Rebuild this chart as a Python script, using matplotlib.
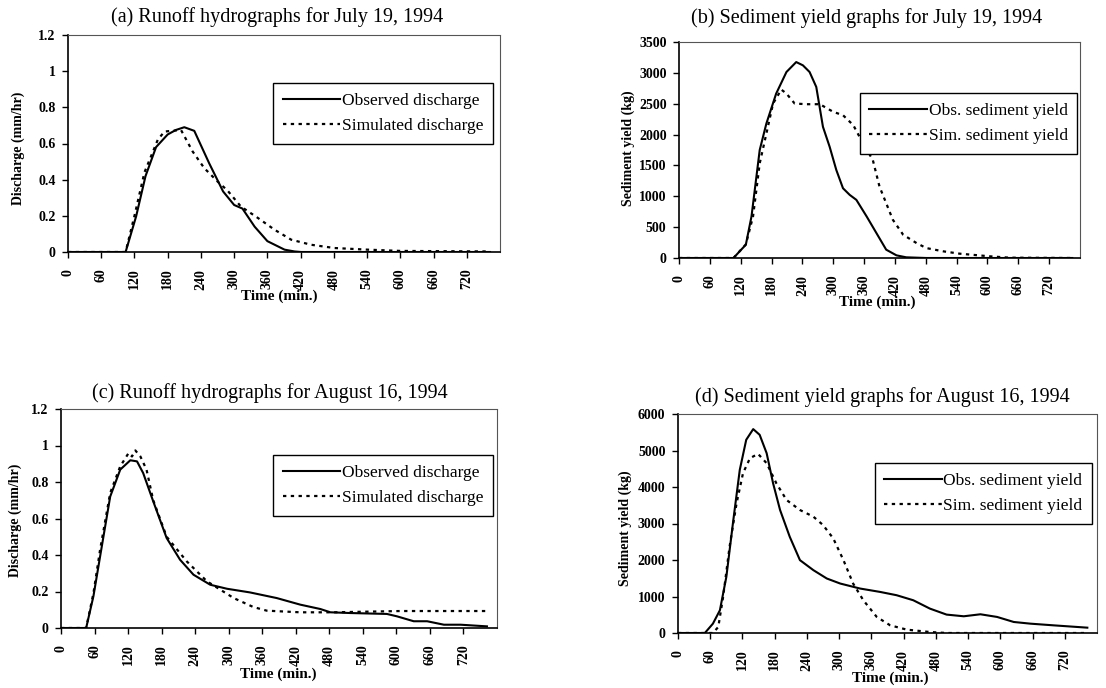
import matplotlib
matplotlib.use("Agg")
import matplotlib.pyplot as plt
import matplotlib.transforms as mtransforms
import numpy as np

plt.rcParams['font.family'] = ['Liberation Serif', 'DejaVu Serif']

# (a) runoff, July 19, 1994
t_obs_a = [0, 104, 123, 140, 159, 180, 195, 210, 228, 255, 280, 300, 315, 337, 360, 391, 409, 421, 480, 762]
q_obs_a = [0, 0, 0.197, 0.42, 0.58, 0.65, 0.675, 0.69, 0.67, 0.49, 0.335, 0.26, 0.24, 0.14, 0.06, 0.013, 0.003, 0, 0, 0]
t_sim_a = [0, 104, 120, 138, 162, 174, 204, 225, 246, 270, 288, 312, 343, 373, 403, 439, 481, 541, 600, 758]
q_sim_a = [0, 0, 0.2, 0.44, 0.62, 0.666, 0.675, 0.556, 0.464, 0.39, 0.34, 0.252, 0.188, 0.123, 0.068, 0.04, 0.022, 0.013, 0.006, 0.003]

# (b) sediment, July 19, 1994
t_obs_b = [0, 106, 118, 130, 141, 157, 170, 189, 209, 228, 241, 254, 267, 280, 293, 306, 319, 332, 345, 365, 384, 403, 423, 442, 481, 765]
s_obs_b = [0, 0, 108, 215, 673, 1750, 2180, 2664, 3014, 3175, 3122, 3014, 2772, 2126, 1803, 1426, 1130, 1023, 942, 673, 404, 135, 43, 11, 0, 0]
t_sim_b = [0, 106, 130, 144, 157, 170, 183, 199, 209, 225, 248, 274, 300, 319, 339, 358, 377, 390, 403, 416, 436, 462, 481, 514, 546, 605, 643, 765]
s_sim_b = [0, 0, 220, 673, 1534, 2018, 2503, 2729, 2664, 2503, 2492, 2492, 2368, 2314, 2153, 1857, 1588, 1157, 888, 619, 377, 242, 161, 108, 70, 27, 5, 0]

# (c) runoff, August 16, 1994
t_obs_c = [0, 45, 58, 70, 88, 106, 124, 136, 147, 165, 189, 213, 237, 267, 297, 338, 386, 428, 464, 482, 518, 583, 601, 631, 655, 685, 715, 762]
q_obs_c = [0, 0, 0.174, 0.393, 0.72, 0.868, 0.919, 0.913, 0.849, 0.694, 0.493, 0.374, 0.292, 0.237, 0.215, 0.195, 0.164, 0.128, 0.104, 0.086, 0.082, 0.077, 0.064, 0.037, 0.037, 0.018, 0.018, 0.009]
t_sim_c = [0, 45, 58, 70, 88, 106, 121, 127, 133, 142, 153, 165, 189, 225, 261, 285, 309, 344, 368, 428, 488, 607, 762]
q_sim_c = [0, 0, 0.19, 0.43, 0.74, 0.886, 0.959, 0.94, 0.973, 0.94, 0.868, 0.70, 0.50, 0.365, 0.256, 0.21, 0.164, 0.115, 0.095, 0.086, 0.086, 0.093, 0.093]

# (d) sediment, August 16, 1994
t_obs_d = [0, 50, 65, 78, 90, 103, 115, 127, 140, 152, 165, 177, 190, 208, 227, 252, 277, 302, 339, 376, 407, 438, 469, 500, 532, 563, 594, 625, 656, 699, 762]
s_obs_d = [0, 0, 256, 623, 1538, 3095, 4469, 5293, 5586, 5430, 4927, 4103, 3370, 2637, 1996, 1722, 1493, 1355, 1218, 1126, 1035, 897, 668, 504, 458, 513, 440, 302, 256, 210, 146]
t_sim_d = [0, 65, 75, 84, 96, 109, 121, 134, 149, 165, 183, 202, 227, 252, 270, 289, 308, 326, 345, 370, 395, 426, 469, 500, 762]
s_sim_d = [0, 0, 165, 989, 2363, 3553, 4377, 4789, 4908, 4652, 4103, 3645, 3370, 3187, 2958, 2592, 1996, 1355, 897, 440, 210, 92, 27, 0, 0]

time_ticks = list(range(0, 721, 60))

fig = plt.figure(figsize=(11.06, 6.88), dpi=100)

panels = [
    dict(rect=[68, 252, 432, 217], obs=(t_obs_a, q_obs_a), sim=(t_sim_a, q_sim_a),
         ylim=1.2, ystep=0.2, ylabel="Discharge (mm/hr)",
         names=("Observed discharge", "Simulated discharge"),
         title="(a) Runoff hydrographs for July 19, 1994", tpos=(0.484, 1.083),
         leg=(0.984, 0.779), xl=(0.49, -0.203), yl=(-0.116, 0.48)),
    dict(rect=[679, 258, 401, 216], obs=(t_obs_b, s_obs_b), sim=(t_sim_b, s_sim_b),
         ylim=3500, ystep=500, ylabel="Sediment yield (kg)",
         names=("Obs. sediment yield", "Sim. sediment yield"),
         title="(b) Sediment yield graphs for July 19, 1994", tpos=(0.469, 1.111),
         leg=(0.993, 0.764), xl=(0.494, -0.204), yl=(-0.127, 0.51)),
    dict(rect=[61, 628, 436, 219], obs=(t_obs_c, q_obs_c), sim=(t_sim_c, q_sim_c),
         ylim=1.2, ystep=0.2, ylabel="Discharge (mm/hr)",
         names=("Observed discharge", "Simulated discharge"),
         title="(c) Runoff hydrographs for August 16, 1994", tpos=(0.479, 1.073),
         leg=(0.991, 0.79), xl=(0.498, -0.21), yl=(-0.105, 0.49)),
    dict(rect=[678, 633, 419, 219], obs=(t_obs_d, s_obs_d), sim=(t_sim_d, s_sim_d),
         ylim=6000, ystep=1000, ylabel="Sediment yield (kg)",
         names=("Obs. sediment yield", "Sim. sediment yield"),
         title="(d) Sediment yield graphs for August 16, 1994", tpos=(0.487, 1.078),
         leg=(0.988, 0.776), xl=(0.506, -0.205), yl=(-0.126, 0.48)),
]

W, H = 1106, 688
shift = mtransforms.ScaledTranslation(5 / 100, 0, fig.dpi_scale_trans)
for p in panels:
    l, b, w, h = p["rect"]
    ax = fig.add_axes([l / W, (H - b) / H, w / W, h / H])
    ax.plot(*p["obs"], color="black", lw=1.5, label=p["names"][0])
    ax.plot(*p["sim"], color="black", lw=1.6, ls=(0, (1.5, 2)), label=p["names"][1])
    ax.set_xlim(0, 780)
    ax.set_ylim(0, p["ylim"])
    ax.set_xticks(time_ticks)
    ax.set_xticklabels([str(t) for t in time_ticks], rotation=90, fontsize=10, fontweight="bold")
    for lab in ax.get_xticklabels():
        lab.set_transform(lab.get_transform() + shift)
    yt = np.arange(0, p["ylim"] + p["ystep"] / 2, p["ystep"])
    ax.set_yticks(yt)
    ax.set_yticklabels(["%g" % round(v, 1) for v in yt], fontsize=10, fontweight="bold")
    ax.tick_params(direction="out", length=4, width=1)
    ax.tick_params(axis="x", pad=8)
    ax.tick_params(axis="y", pad=5)
    for s in ("left", "bottom"):
        ax.spines[s].set_linewidth(1.2)
    for s in ("top", "right"):
        ax.spines[s].set_linestyle((0, (1, 1)))
        ax.spines[s].set_color("#555555")
        ax.spines[s].set_linewidth(0.8)
    ax.set_xlabel("Time (min.)", fontsize=11, fontweight="bold")
    ax.xaxis.set_label_coords(*p["xl"])
    ax.xaxis.label.set_va("center")
    ax.set_ylabel(p["ylabel"], fontsize=10, fontweight="bold")
    ax.yaxis.set_label_coords(*p["yl"])
    ax.yaxis.label.set_va("center")
    ax.text(p["tpos"][0], p["tpos"][1], p["title"], transform=ax.transAxes,
            ha="center", va="center", fontsize=14.5)
    leg = ax.legend(loc="upper right", bbox_to_anchor=p["leg"], fontsize=12.5,
                    handlelength=3.3, handletextpad=0.1, fancybox=False,
                    framealpha=1, edgecolor="black", borderpad=0.55, labelspacing=0.55,
                    borderaxespad=0)
    leg.get_frame().set_linewidth(1.0)

fig.savefig("out.png", dpi=100)
